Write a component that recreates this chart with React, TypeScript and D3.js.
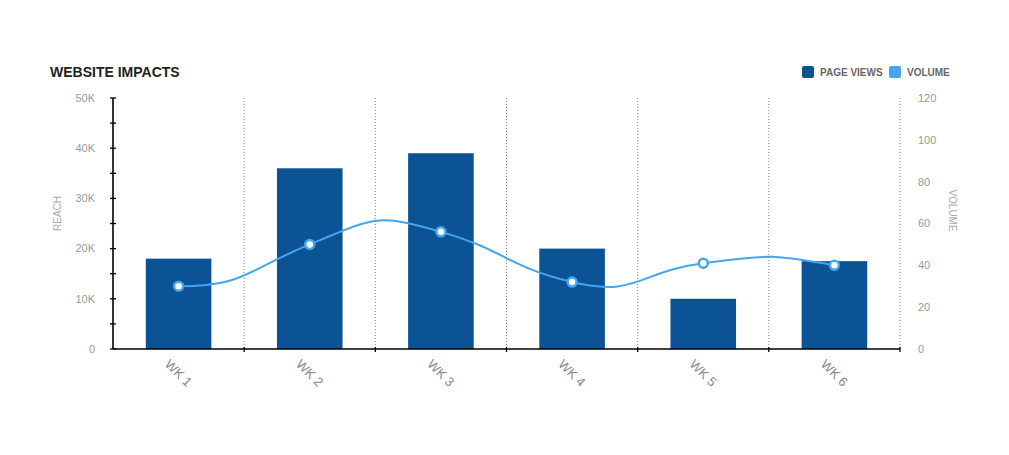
import React, { useEffect, useRef } from 'react';
import * as d3 from 'd3';

const weeks = ['WK 1', 'WK 2', 'WK 3', 'WK 4', 'WK 5', 'WK 6'];
const pageViews = [18000, 36000, 39000, 20000, 10000, 17500];
const volume = [30, 50, 56, 32, 41, 40];
const reachTicks = [0, 10000, 20000, 30000, 40000, 50000];
const volumeTicks = [0, 20, 40, 60, 80, 100, 120];

const width = 1009;
const height = 455;
const margin = { top: 98, right: 109, bottom: 106, left: 113 };
const barColor = '#0b5394';
const lineColor = '#45a5ef';
const font = '"Liberation Sans", Arial, Helvetica, sans-serif';

// loose spline for the volume line, plugged into d3.line
// (flat start, the end borrows the first point as its next neighbour)
const looseSpline = (context: any) => {
  let xs: number[] = [];
  let ys: number[] = [];
  return {
    areaStart() {},
    areaEnd() {},
    lineStart() {
      xs = [];
      ys = [];
    },
    point(x: number, y: number) {
      xs.push(+x);
      ys.push(+y);
    },
    lineEnd() {
      const n = xs.length;
      if (!n) return;
      const yAt = (i: number) => (i < 0 ? ys[1] : ys[i % n]);
      context.moveTo(xs[0], ys[0]);
      for (let i = 0; i < n - 1; i++) {
        const dx = (xs[i + 1] - xs[i]) / 2;
        const m0 = yAt(i + 1) - yAt(i - 1);
        const m1 = yAt(i + 2) - yAt(i);
        context.bezierCurveTo(
          xs[i] + dx,
          ys[i] + m0 / 2,
          xs[i + 1] - dx,
          ys[i + 1] - m1 / 2,
          xs[i + 1],
          ys[i + 1]
        );
      }
    },
  };
};

export default function App() {
  const ref = useRef<SVGSVGElement>(null);

  useEffect(() => {
    if (!ref.current) return;
    const root = d3.select(ref.current);
    root.selectAll('*').remove();

    const graphWidth = width - margin.left - margin.right;
    const graphHeight = height - margin.top - margin.bottom;

    const svg = root
      .append('g')
      .attr('transform', `translate(${margin.left}, ${margin.top})`);

    const x = d3.scaleBand().domain(weeks).range([0, graphWidth]).padding(0);
    const y = d3.scaleLinear().domain([0, 50000]).range([graphHeight, 0]);
    const yRight = d3.scaleLinear().domain([0, 120]).range([graphHeight, 0]);

    // dotted vertical grid lines at band edges
    svg
      .selectAll('line.grid')
      .data(weeks)
      .enter()
      .append('line')
      .attr('class', 'grid')
      .attr('x1', (d) => (x(d) ?? 0) + x.bandwidth())
      .attr('x2', (d) => (x(d) ?? 0) + x.bandwidth())
      .attr('y1', 0)
      .attr('y2', graphHeight)
      .attr('stroke', '#888')
      .attr('stroke-width', 1)
      .attr('stroke-dasharray', '1,2');

    // bars
    svg
      .selectAll('rect.bar')
      .data(pageViews)
      .enter()
      .append('rect')
      .attr('class', 'bar')
      .attr('x', (d, i) => (x(weeks[i]) ?? 0) + x.bandwidth() * 0.25)
      .attr('width', x.bandwidth() * 0.5)
      .attr('y', (d) => y(d))
      .attr('height', (d) => graphHeight - y(d))
      .attr('fill', barColor);

    // left axis: line and crossing ticks every 5K
    svg
      .append('line')
      .attr('x1', 0)
      .attr('x2', 0)
      .attr('y1', 0)
      .attr('y2', graphHeight)
      .attr('stroke', '#000')
      .attr('stroke-width', 1.6);
    svg
      .selectAll('line.ytick')
      .data(d3.range(0, 50001, 5000))
      .enter()
      .append('line')
      .attr('x1', -3)
      .attr('x2', 3)
      .attr('y1', (d) => y(d))
      .attr('y2', (d) => y(d))
      .attr('stroke', '#000')
      .attr('stroke-width', 1.3);
    svg
      .selectAll('text.ylabel')
      .data(reachTicks)
      .enter()
      .append('text')
      .attr('x', -18)
      .attr('y', (d) => y(d))
      .attr('dy', '0.35em')
      .attr('text-anchor', 'end')
      .attr('font-size', 11)
      .attr('font-family', font)
      .attr('fill', '#999')
      .text((d) => (d === 0 ? '0' : `${d / 1000}K`));

    // right axis labels
    svg
      .selectAll('text.rlabel')
      .data(volumeTicks)
      .enter()
      .append('text')
      .attr('x', graphWidth + 18)
      .attr('y', (d) => yRight(d))
      .attr('dy', '0.35em')
      .attr('text-anchor', 'start')
      .attr('font-size', 11)
      .attr('font-family', font)
      .attr('fill', '#999')
      .text((d) => d);

    // x axis
    svg
      .append('line')
      .attr('x1', 0)
      .attr('x2', graphWidth)
      .attr('y1', graphHeight)
      .attr('y2', graphHeight)
      .attr('stroke', '#000')
      .attr('stroke-width', 1.6);
    svg
      .selectAll('line.xtick')
      .data(weeks)
      .enter()
      .append('line')
      .attr('x1', (d) => (x(d) ?? 0) + x.bandwidth())
      .attr('x2', (d) => (x(d) ?? 0) + x.bandwidth())
      .attr('y1', graphHeight - 2)
      .attr('y2', graphHeight + 3)
      .attr('stroke', '#000')
      .attr('stroke-width', 1.3);
    svg
      .selectAll('text.xlabel')
      .data(weeks)
      .enter()
      .append('text')
      .attr(
        'transform',
        (d) =>
          `translate(${(x(d) ?? 0) + x.bandwidth() / 2}, ${graphHeight + 24}) rotate(45)`
      )
      .attr('text-anchor', 'middle')
      .attr('dy', '0.35em')
      .attr('font-size', 13)
      .attr('font-family', font)
      .attr('fill', '#888')
      .text((d) => d);

    // volume line
    const line = d3
      .line<number>()
      .x((d, i) => (x(weeks[i]) ?? 0) + x.bandwidth() / 2)
      .y((d) => yRight(d))
      .curve(looseSpline as any);
    svg
      .append('path')
      .datum(volume)
      .attr('d', line)
      .attr('fill', 'none')
      .attr('stroke', lineColor)
      .attr('stroke-width', 2);

    svg
      .selectAll('circle.pt')
      .data(volume)
      .enter()
      .append('circle')
      .attr('cx', (d, i) => (x(weeks[i]) ?? 0) + x.bandwidth() / 2)
      .attr('cy', (d) => yRight(d))
      .attr('r', 4.5)
      .attr('fill', '#fff')
      .attr('stroke', lineColor)
      .attr('stroke-width', 2.5);

    // axis titles
    root
      .append('text')
      .attr('transform', `translate(61, ${margin.top + graphHeight / 2 - 10}) rotate(-90)`)
      .attr('text-anchor', 'middle')
      .attr('font-size', 10)
      .attr('font-family', font)
      .attr('fill', '#aaa')
      .text('REACH');
    root
      .append('text')
      .attr('transform', `translate(949, ${margin.top + graphHeight / 2 - 13}) rotate(90)`)
      .attr('text-anchor', 'middle')
      .attr('font-size', 10)
      .attr('font-family', font)
      .attr('fill', '#aaa')
      .text('VOLUME');

    // title
    root
      .append('text')
      .attr('x', 50)
      .attr('y', 77)
      .attr('font-size', 14)
      .attr('font-weight', 'bold')
      .attr('font-family', font)
      .attr('fill', '#222')
      .text('WEBSITE IMPACTS');

    // legend
    const legend = [
      { label: 'PAGE VIEWS', color: barColor, x: 802 },
      { label: 'VOLUME', color: lineColor, x: 889 },
    ];
    const lg = root
      .selectAll('g.legend')
      .data(legend)
      .enter()
      .append('g')
      .attr('transform', (d) => `translate(${d.x}, 66)`);
    lg.append('rect')
      .attr('width', 12)
      .attr('height', 12)
      .attr('rx', 2)
      .attr('fill', (d) => d.color);
    lg.append('text')
      .attr('x', 18)
      .attr('y', 6)
      .attr('dy', '0.35em')
      .attr('font-size', 10)
      .attr('font-weight', 'bold')
      .attr('font-family', font)
      .attr('fill', '#666')
      .text((d) => d.label);
  }, []);

  return (
    <svg
      ref={ref}
      width={width}
      height={height}
      style={{ position: 'absolute', left: 0, top: 0, background: '#fff' }}
    />
  );
}
